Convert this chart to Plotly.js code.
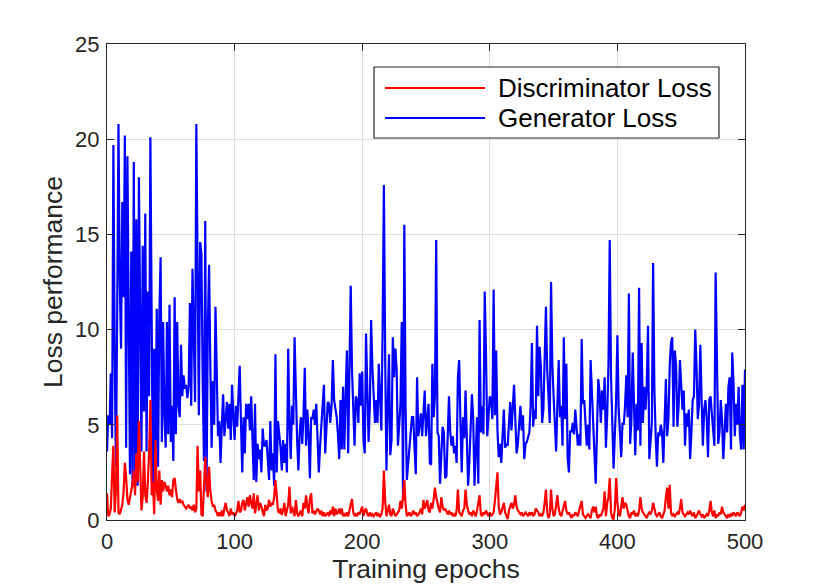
<!DOCTYPE html>
<html>
<head>
<meta charset="utf-8">
<script src="https://cdn.plot.ly/plotly-3.0.1.min.js"></script>
<style>
  html, body { margin: 0; padding: 0; background: #ffffff; }
  #chart { width: 822px; height: 587px; }
</style>
</head>
<body>
<div id="chart"></div>
<script>
// Generator loss, one value per epoch (0..500)
var generatorLoss = [
  3.6, 5.5, 5.0, 7.7, 4.3, 19.7, 9.0, 2.8, 11.0, 20.8,
  12.5, 9.0, 16.7, 11.7, 20.2, 3.8, 19.1, 8.0, 2.4, 14.1,
  1.8, 18.8, 1.8, 15.8, 1.8, 18.0, 10.0, 3.6, 14.4, 5.7,
  16.1, 3.6, 12.0, 6.5, 20.1, 11.1, 1.3, 9.0, 3.5, 11.1,
  2.8, 10.6, 13.8, 4.1, 10.4, 5.5, 3.8, 10.4, 4.5, 11.3,
  4.1, 6.0, 3.1, 11.7, 4.5, 10.4, 6.0, 5.4, 9.2, 6.5,
  7.6, 6.9, 7.1, 6.4, 7.0, 11.4, 6.0, 13.2, 9.0, 6.2,
  20.8, 11.5, 5.5, 14.6, 14.0, 7.3, 3.1, 15.7, 1.5, 10.0,
  13.4, 8.0, 3.8, 7.3, 5.0, 11.2, 6.4, 4.4, 5.2, 3.0,
  5.0, 6.6, 4.4, 5.5, 6.2, 4.8, 6.1, 4.2, 7.1, 5.5,
  4.2, 6.0, 4.9, 6.5, 8.1, 5.1, 2.5, 5.4, 3.5, 6.1,
  5.3, 6.1, 4.7, 6.5, 4.0, 2.1, 6.1, 2.0, 4.0, 3.2,
  3.7, 2.5, 4.8, 3.9, 3.9, 4.2, 3.2, 2.1, 5.2, 2.6,
  3.5, 1.8, 8.7, 2.5, 5.2, 4.6, 3.8, 2.6, 4.2, 3.0,
  4.0, 2.5, 9.0, 5.1, 3.2, 6.0, 5.0, 9.6, 6.0, 4.2,
  2.6, 4.6, 5.4, 4.0, 5.5, 8.0, 3.9, 5.8, 4.5, 2.2,
  5.4, 5.3, 5.8, 5.0, 6.1, 4.0, 2.5, 3.9, 5.1, 6.0,
  7.1, 3.5, 5.3, 6.2, 6.1, 5.1, 6.0, 8.4, 6.3, 5.8,
  5.4, 4.5, 3.2, 6.3, 3.7, 7.0, 3.7, 6.5, 8.9, 3.5,
  7.9, 12.3, 7.9, 5.5, 3.9, 6.5, 6.3, 5.1, 7.7, 6.0,
  7.8, 4.2, 3.5, 9.8, 7.5, 4.1, 6.0, 10.5, 8.0, 6.2,
  5.1, 6.3, 5.1, 8.2, 6.3, 4.7, 10.0, 17.6, 8.6, 2.6,
  6.0, 8.7, 3.4, 4.2, 9.6, 7.5, 9.0, 7.9, 3.9, 5.0,
  6.1, 10.4, 1.0, 15.5, 6.0, 2.1, 2.8, 3.7, 4.6, 5.4,
  5.4, 3.8, 2.4, 7.5, 4.4, 5.0, 5.6, 4.4, 6.1, 6.8,
  4.4, 5.2, 6.1, 3.0, 2.9, 8.2, 5.4, 6.5, 14.7, 4.6,
  4.4, 1.9, 3.5, 4.9, 4.6, 2.2, 2.3, 4.5, 6.5, 4.6,
  3.9, 4.4, 3.5, 3.9, 3.0, 7.5, 8.4, 5.1, 2.5, 5.4,
  4.3, 6.8, 4.7, 1.8, 3.1, 5.0, 6.6, 5.3, 1.8, 3.6,
  5.4, 1.9, 10.5, 4.6, 6.0, 4.5, 12.0, 8.8, 4.4, 5.5,
  6.5, 6.3, 5.3, 12.1, 5.5, 8.9, 4.7, 3.3, 4.0, 3.0,
  4.8, 5.8, 3.8, 4.0, 3.9, 5.0, 6.2, 4.7, 5.8, 7.1,
  5.3, 3.5, 4.0, 5.1, 6.0, 4.7, 5.5, 3.2, 4.0, 4.1,
  4.4, 4.6, 6.0, 9.3, 4.9, 5.8, 5.3, 10.2, 6.5, 9.1,
  8.1, 5.1, 5.8, 7.9, 11.2, 7.9, 6.0, 5.1, 12.5, 8.2,
  6.5, 5.1, 3.6, 6.1, 8.4, 5.4, 6.0, 3.9, 9.6, 5.3,
  8.2, 3.3, 2.5, 4.7, 4.6, 5.1, 4.5, 5.8, 4.7, 3.9,
  4.5, 3.9, 9.5, 6.1, 6.3, 5.1, 3.9, 5.0, 3.7, 8.4,
  7.0, 5.1, 3.5, 1.9, 5.1, 7.4, 6.7, 5.1, 6.8, 5.8,
  7.5, 3.8, 5.5, 8.1, 14.7, 7.5, 5.1, 2.7, 4.5, 6.3,
  9.7, 5.8, 4.6, 3.3, 5.1, 5.0, 6.0, 7.6, 5.4, 11.9,
  4.0, 5.3, 8.8, 5.6, 3.4, 6.1, 4.7, 12.2, 3.9, 9.3,
  5.1, 7.0, 5.8, 7.0, 10.2, 3.2, 4.5, 5.1, 13.5, 6.8,
  4.4, 2.8, 4.6, 4.4, 5.0, 4.6, 3.0, 5.1, 7.4, 4.4,
  5.3, 8.1, 9.3, 9.6, 4.9, 8.9, 8.1, 4.9, 6.0, 8.4,
  6.8, 5.8, 6.8, 3.9, 5.6, 4.9, 5.8, 3.2, 4.6, 6.3,
  6.5, 10.0, 8.1, 5.3, 6.1, 9.2, 6.3, 3.9, 5.8, 6.3,
  5.3, 3.3, 6.3, 6.5, 5.6, 4.5, 3.9, 13.0, 7.2, 4.0,
  4.6, 6.3, 5.3, 3.2, 4.6, 6.1, 4.6, 7.0, 7.5, 3.7,
  8.8, 7.2, 4.4, 6.1, 5.0, 7.0, 4.5, 3.7, 7.1, 3.7,
  7.9
];

// Discriminator loss, one value per epoch (0..500)
var discriminatorLoss = [
  1.4, 0.2, 0.3, 0.6, 2.4, 3.9, 0.4, 1.5, 5.5, 0.4,
  0.3, 0.5, 0.8, 1.5, 3.0, 2.2, 1.1, 0.8, 1.2, 1.5,
  1.9, 2.6, 1.3, 3.5, 2.0, 5.2, 2.0, 0.5, 1.2, 3.6,
  1.3, 0.9, 2.0, 3.5, 6.3, 1.3, 2.0, 0.3, 4.2, 1.6,
  1.0, 2.6, 0.8, 2.1, 1.5, 2.0, 1.8, 1.5, 1.8, 1.3,
  1.6, 1.2, 2.1, 2.2, 1.6, 1.1, 0.9, 1.1, 0.9, 1.0,
  0.8, 0.7, 0.6, 0.7, 0.8, 0.6, 0.7, 0.5, 0.8, 0.4,
  0.6, 3.9, 1.5, 2.6, 0.3, 0.2, 1.8, 3.3, 1.9, 1.2,
  2.8, 1.5, 1.0, 0.7, 0.8, 0.5, 0.4, 0.2, 0.4, 0.2,
  0.5, 0.2, 0.6, 0.9, 0.5, 0.4, 0.2, 0.6, 0.3, 0.4,
  0.2, 0.3, 0.5, 1.0, 0.4, 0.5, 0.9, 1.05, 0.5, 0.8,
  1.2, 0.7, 1.3, 0.9, 0.6, 1.4, 0.35, 0.8, 1.3, 0.5,
  0.9, 0.7, 0.5, 0.2, 0.8, 0.5, 0.6, 1.05, 0.7, 0.9,
  0.8, 1.2, 2.1, 1.2, 0.5, 0.35, 0.6, 0.26, 0.5, 0.9,
  0.2, 0.5, 0.8, 1.75, 0.35, 0.7, 0.4, 0.2, 1.05, 0.35,
  0.2, 0.4, 0.5, 0.2, 0.9, 0.6, 1.3, 0.7, 0.35, 1.1,
  1.4, 0.35, 0.5, 0.3, 0.45, 0.6, 0.5, 0.3, 0.5, 0.2,
  0.4, 0.2, 0.3, 0.4, 0.2, 0.5, 0.3, 0.7, 0.2, 0.6,
  0.3, 0.4, 0.6, 0.3, 0.6, 0.2, 0.3, 0.2, 0.4, 0.2,
  0.5, 0.9, 1.1, 0.4, 0.2, 0.3, 0.2, 0.4, 0.3, 0.5,
  0.7, 0.2, 0.5, 0.6, 0.3, 0.2, 0.4, 0.2, 0.3, 0.2,
  0.3, 0.4, 0.2, 0.3, 0.2, 0.3, 0.6, 2.6, 1.0, 0.2,
  0.5, 0.8, 0.3, 0.2, 0.6, 0.4, 0.2, 0.3, 0.4, 0.5,
  1.0, 0.6, 1.2, 2.1, 0.8, 0.2, 0.3, 0.4, 0.2, 0.3,
  0.5, 0.3, 0.4, 0.2, 0.3, 0.4, 0.6, 0.3, 1.05, 0.6,
  0.8, 1.05, 0.5, 0.4, 0.9, 0.6, 1.1, 1.7, 1.2, 0.8,
  0.6, 0.4, 1.2, 0.7, 0.5, 0.6, 0.4, 0.3, 0.5, 0.3,
  0.4, 0.2, 0.3, 0.2, 0.5, 1.6, 0.4, 0.3, 0.2, 0.5,
  0.6, 1.6, 0.8, 0.5, 0.3, 0.4, 0.2, 0.5, 0.3, 0.2,
  0.5, 0.9, 1.3, 0.3, 0.2, 0.4, 0.3, 0.5, 0.3, 0.2,
  0.4, 0.2, 0.3, 0.4, 1.0, 1.8, 2.5, 0.7, 0.3, 0.4,
  0.7, 0.9, 0.4, 0.2, 0.05, 0.5, 0.7, 0.9, 0.6, 0.8,
  1.3, 0.7, 0.5, 0.4, 0.3, 0.4, 0.2, 0.3, 0.4, 0.3,
  0.2, 0.4, 0.3, 0.4, 0.2, 0.3, 0.6, 0.5, 0.4, 0.2,
  0.3, 0.2, 0.4, 0.9, 1.6, 0.4, 0.1, 0.3, 1.6, 0.6,
  0.2, 0.3, 0.7, 1.3, 0.6, 0.3, 0.2, 0.5, 0.8, 1.0,
  0.5, 0.3, 0.4, 0.2, 0.1, 0.3, 0.2, 0.4, 0.3, 0.2,
  0.5, 0.8, 1.0, 0.3, 0.2, 0.1, 0.2, 0.3, 0.2, 0.1,
  0.5, 0.7, 0.4, 0.7, 0.2, 0.1, 0.3, 0.2, 0.4, 0.6,
  1.5, 0.2, 0.9, 1.2, 2.2, 0.4, 0.1, 0.05, 0.6, 2.2,
  0.9, 0.3, 0.2, 0.6, 1.2, 0.6, 0.9, 0.8, 0.4, 0.2,
  0.1, 0.4, 0.3, 0.5, 0.2, 0.3, 0.2, 0.5, 1.2, 0.6,
  0.4, 0.3, 0.2, 0.1, 0.3, 0.4, 0.3, 0.5, 0.9, 0.5,
  0.3, 0.2, 0.3, 0.4, 0.2, 0.1, 0.3, 0.5, 1.2, 1.7,
  0.6, 1.85, 0.4, 0.2, 0.3, 0.2, 0.3, 0.4, 0.3, 0.6,
  1.1, 0.4, 0.3, 0.2, 0.3, 0.4, 0.3, 0.5, 0.3, 0.2,
  0.4, 0.1, 0.2, 0.4, 0.5, 0.3, 0.2, 0.3, 0.1, 0.2,
  0.3, 0.2, 0.5, 1.0, 0.4, 0.2, 0.5, 0.1, 0.3, 0.2,
  0.4, 0.3, 0.7, 0.4, 0.3, 0.2, 0.1, 0.3, 0.2, 0.3,
  0.2, 0.4, 0.3, 0.2, 0.4, 0.3, 0.2, 0.4, 0.7, 0.5,
  0.8
];

var xTicks = [0, 100, 200, 300, 400, 500];
var yTicks = [0, 5, 10, 15, 20, 25];
var seriesNames = ["Discriminator Loss", "Generator Loss"];
var seriesColors = ["#ff0000", "#0000ff"];

var epochsG = generatorLoss.map(function (v, i) { return i; });
var epochsD = discriminatorLoss.map(function (v, i) { return i; });

var FONT = '"Liberation Sans", Arial, Helvetica, sans-serif';
var INK = '#262626';

var traces = [
  {
    x: epochsG, y: generatorLoss, type: 'scatter', mode: 'lines',
    name: seriesNames[1], showlegend: false,
    line: { color: seriesColors[1], width: 2.2 }
  },
  {
    x: epochsD, y: discriminatorLoss, type: 'scatter', mode: 'lines',
    name: seriesNames[0], showlegend: false,
    line: { color: seriesColors[0], width: 2.2 }
  }
];

var axisCommon = {
  ticks: 'inside', ticklen: 7, tickwidth: 1, tickcolor: INK,
  showline: true, linecolor: INK, linewidth: 1, mirror: 'ticks',
  showgrid: true, gridcolor: '#dedede', gridwidth: 1,
  zeroline: false, fixedrange: true,
  tickfont: { family: FONT, size: 22, color: INK }
};

// Legend box drawn in paper coordinates (MATLAB-style legend)
var legBox = { x0: 0.4185, x1: 0.9592, y0: 0.8025, y1: 0.9517 };
var legRows = [0.9076, 0.8445];
var legLine = { x0: 0.4357, x1: 0.5925 };
var legTextX = 0.6097;

var shapes = [
  { type: 'rect', xref: 'paper', yref: 'paper',
    x0: legBox.x0, x1: legBox.x1, y0: legBox.y0, y1: legBox.y1,
    line: { color: INK, width: 1.2 }, fillcolor: '#ffffff', layer: 'above' }
];
var annotations = [];
for (var i = 0; i < seriesNames.length; i++) {
  shapes.push({ type: 'line', xref: 'paper', yref: 'paper',
    x0: legLine.x0, x1: legLine.x1, y0: legRows[i], y1: legRows[i],
    line: { color: seriesColors[i], width: 2.2 }, layer: 'above' });
  annotations.push({ xref: 'paper', yref: 'paper', x: legTextX, y: legRows[i],
    xanchor: 'left', yanchor: 'middle', showarrow: false, text: seriesNames[i],
    font: { family: FONT, size: 26, color: '#000000' } });
}

var layout = {
  width: 822, height: 587,
  paper_bgcolor: '#ffffff', plot_bgcolor: '#ffffff',
  margin: { l: 107, r: 77, t: 44, b: 67, pad: 0 },
  font: { family: FONT, color: INK },
  showlegend: false,
  xaxis: Object.assign({}, axisCommon, {
    range: [0, 500], tickvals: xTicks, ticktext: xTicks.map(String),
    ticklabelstandoff: 2,
    title: { text: 'Training epochs', font: { family: FONT, size: 26.5, color: INK }, standoff: 6 }
  }),
  yaxis: Object.assign({}, axisCommon, {
    range: [0, 25], tickvals: yTicks, ticktext: yTicks.map(String),
    ticklabelstandoff: 2,
    title: { text: 'Loss performance', font: { family: FONT, size: 26.5, color: INK }, standoff: 4 }
  }),
  shapes: shapes,
  annotations: annotations
};

Plotly.newPlot('chart', traces, layout, { staticPlot: true, displayModeBar: false });
</script>
</body>
</html>
